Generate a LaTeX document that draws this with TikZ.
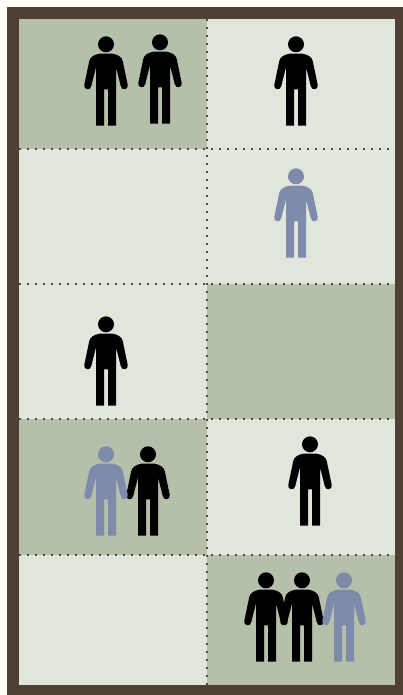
\documentclass[tikz,border=0pt]{standalone}
\definecolor{paper}{HTML}{FFFDF8}
\definecolor{framec}{HTML}{503F32}
\definecolor{cellD}{HTML}{B4C0A9}
\definecolor{cellL}{HTML}{E1E6DC}
\definecolor{blueP}{HTML}{7F8BAB}
\definecolor{dotc}{HTML}{504A3E}
\tikzset{
  x=1pt,y=-1pt,
  darkcell/.style={fill=cellD},
  lightcell/.style={fill=cellL},
  gridline/.style={draw=dotc,line width=2.2pt,dash pattern=on 2.4pt off 5.6pt},
  person/.pic={
    \fill[pic actions] (0,0) circle (8);
    \fill[pic actions] (-2,45)--(-2,81.3)--(-10,81.3)--(-10,23)
       -- (-14.8,42) .. controls (-15.8,46.8) and (-22.8,45.5) .. (-21.7,40.5)
       -- (-16.8,17) .. controls (-16.2,13) and (-12,10.2) .. (-6,9.3)
       -- (6,9.3) .. controls (12,10.2) and (16.2,13) .. (16.8,17)
       -- (21.7,40.5) .. controls (22.8,45.5) and (15.8,46.8) .. (14.8,42)
       -- (10,23) -- (10,81.3) -- (2,81.3) -- (2,45) -- cycle;
  },
  blackperson/.style={fill=black},
  blueperson/.style={fill=blueP}
}
\begin{document}
\begin{tikzpicture}[x=1pt,y=-1pt]
\useasboundingbox (0,0) rectangle (403,695);
\fill[paper] (0,0) rectangle (403,695);
\fill[framec] (7,7) rectangle (403,695);
% cells
\fill[darkcell]  (19,19)  rectangle (207,149);
\fill[lightcell] (207,19) rectangle (395,149);
\fill[lightcell] (19,149) rectangle (207,284);
\fill[lightcell] (207,149) rectangle (395,284);
\fill[lightcell] (19,284) rectangle (207,419);
\fill[darkcell]  (207,284) rectangle (395,419);
\fill[darkcell]  (19,419) rectangle (207,555);
\fill[lightcell] (207,419) rectangle (395,555);
\fill[lightcell] (19,555) rectangle (207,685);
\fill[darkcell]  (207,555) rectangle (395,685);
% dotted grid
\draw[gridline] (207,19) -- (207,685);
\foreach \yy in {149,284,419,555}
  \draw[gridline] (19,\yy) -- (395,\yy);
% people
\foreach \px/\py in {106/44.3,160/42.3,296/44.3,106/324.3,148/454.3,310/444.3,266/580.3,302/580.3}
  \pic[blackperson] at (\px,\py) {person};
\foreach \px/\py in {296/176.3,106/454.3,344/580.3}
  \pic[blueperson] at (\px,\py) {person};
\end{tikzpicture}
\end{document}
